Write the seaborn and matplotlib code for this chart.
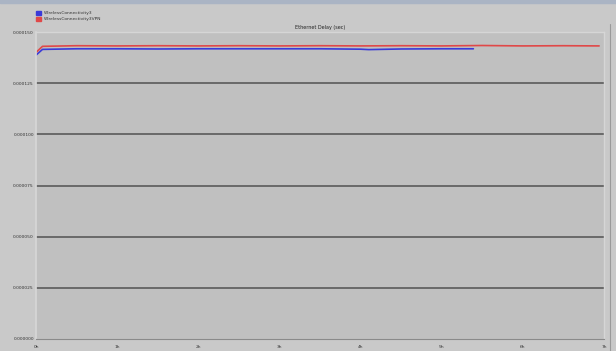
import numpy as np
import pandas as pd
import matplotlib
matplotlib.use("Agg")
import matplotlib.pyplot as plt
import seaborn as sns

# Ethernet delay (sec) sampled over simulation time (hours)
t_base = [0.0, 0.08, 0.5, 1.0, 1.5, 2.0, 2.5, 3.0, 3.5, 4.0, 4.1, 4.5, 5.0, 5.39]
delay_base = [0.0001387, 0.0001415, 0.0001418, 0.0001418, 0.0001417, 0.0001418,
              0.0001418, 0.0001418, 0.0001418, 0.0001416, 0.0001414, 0.0001417,
              0.0001418, 0.0001418]

t_vpn = [0.0, 0.08, 0.5, 1.0, 1.5, 2.0, 2.5, 3.0, 3.5, 4.0, 4.5, 5.0, 5.5, 6.0,
         6.5, 6.94]
delay_vpn = [0.0001400, 0.0001430, 0.0001433, 0.0001432, 0.0001433, 0.0001432,
             0.0001433, 0.0001432, 0.0001433, 0.0001432, 0.0001433, 0.0001432,
             0.0001434, 0.0001432, 0.0001433, 0.0001432]

series_names = ["WirelessConnectivity3", "WirelessConnectivity3VPN"]
x_ticks = [0, 1, 2, 3, 4, 5, 6, 7]
x_labels = ["0h", "1h", "2h", "3h", "4h", "5h", "6h", "7h"]
y_ticks = [0.0, 0.000025, 0.00005, 0.000075, 0.0001, 0.000125, 0.00015]

df = pd.concat([
    pd.DataFrame({"time": t_base, "delay": delay_base, "scenario": series_names[0]}),
    pd.DataFrame({"time": t_vpn, "delay": delay_vpn, "scenario": series_names[1]}),
])

sns.set_theme(style="white")
fig = plt.figure(figsize=(6.16, 3.51), dpi=100, facecolor="#c9c9c9")
ax = fig.add_axes([36 / 616, 12 / 351, 568 / 616, 307 / 351])
ax.set_facecolor("#c0c0c0")

palette = {series_names[0]: "#3a3ad8", series_names[1]: "#e04848"}
sns.lineplot(data=df, x="time", y="delay", hue="scenario", palette=palette,
             linewidth=1.2, ax=ax, legend=False)

ax.set_xlim(0, 7)
ax.set_ylim(0, 0.00015)
ax.set_xticks(x_ticks)
ax.set_xticklabels(x_labels)
ax.set_yticks(y_ticks)
ax.set_yticklabels([f"{v:.6f}" for v in y_ticks])
ax.tick_params(axis="both", labelsize=3.2, colors="#333333", length=3, width=0.6,
               pad=1.5)
ax.tick_params(axis="y", length=0)
ax.set_xlabel("")
ax.set_ylabel("")

for v in y_ticks[1:-1]:
    ax.axhline(v, color="#5a5a5a", linewidth=1.2, zorder=0)

for side in ["top", "right"]:
    ax.spines[side].set_color("#d6d6d6")
    ax.spines[side].set_linewidth(1.0)
ax.spines["left"].set_color("#d6d6d6")
ax.spines["bottom"].set_color("#8a8a8a")
ax.spines["bottom"].set_linewidth(0.8)

ax.set_title("Ethernet Delay (sec)", fontsize=3.5, color="#222222", pad=2)

# legend entries in the upper-left margin
fig.patches.append(plt.Rectangle((36 / 616, 1 - 15 / 351), 5 / 616, 4 / 351,
                                 transform=fig.transFigure, color=palette[series_names[0]]))
fig.patches.append(plt.Rectangle((36 / 616, 1 - 21 / 351), 5 / 616, 4 / 351,
                                 transform=fig.transFigure, color=palette[series_names[1]]))
fig.text(44 / 616, 1 - 13 / 351, series_names[0], fontsize=3.2, color="#333333", va="center")
fig.text(44 / 616, 1 - 19 / 351, series_names[1], fontsize=3.2, color="#333333", va="center")

# top frame band and right-hand divider
fig.patches.append(plt.Rectangle((0, 1 - 3 / 351), 1, 3 / 351,
                                 transform=fig.transFigure, color="#aab4c4"))
fig.lines.append(plt.Line2D([610 / 616, 610 / 616], [0, 1 - 24 / 351],
                            transform=fig.transFigure, color="#9a9a9a", linewidth=0.8))

fig.savefig("out.png", dpi=100, facecolor=fig.get_facecolor())
